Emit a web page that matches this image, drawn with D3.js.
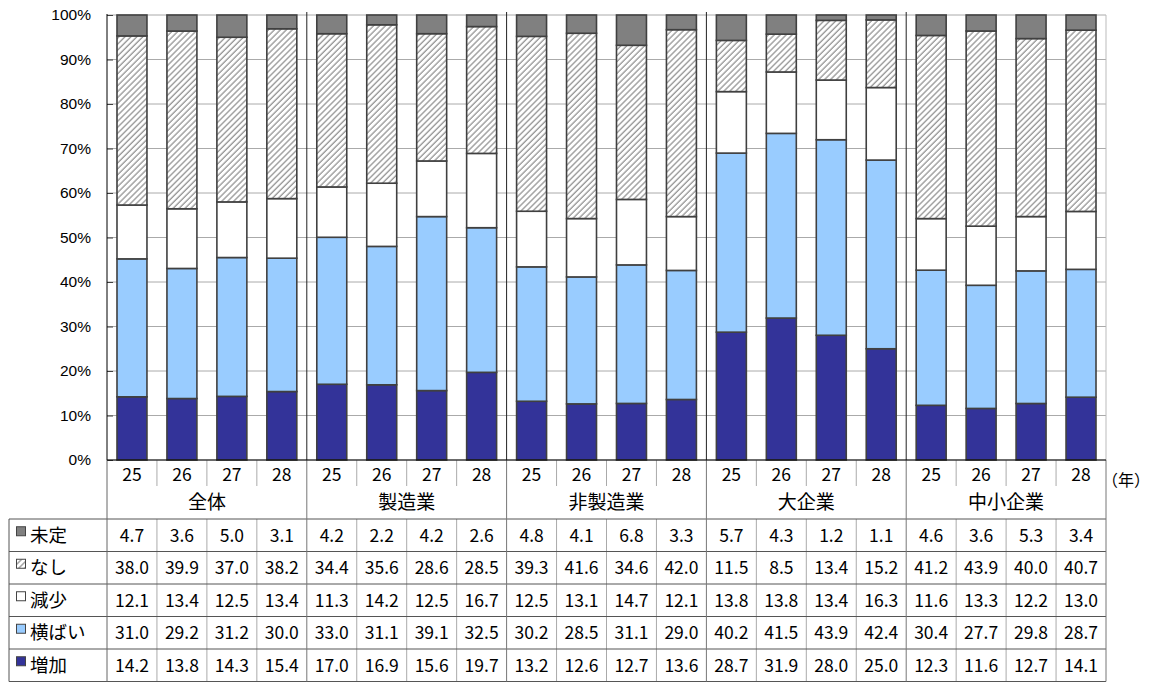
<!DOCTYPE html>
<html lang="ja">
<head>
<meta charset="utf-8">
<script src="https://cdn.jsdelivr.net/npm/d3@7"></script>
<style>
  html, body { margin: 0; padding: 0; background: #fff; }
  svg { display: block; }
  text { fill: #000; }
</style>
</head>
<body>
<svg id="chart" width="1151" height="682"></svg>
<script>
// Categories: five groups, each with four survey years
const groups = ["全体", "製造業", "非製造業", "大企業", "中小企業"];
const years = ["25", "26", "27", "28"];
const yearUnit = "（年）";

// Series names, in table order (top to bottom)
const seriesNames = ["未定", "なし", "減少", "横ばい", "増加"];

// Series values (%), 20 columns: group × year
const undecided = [4.7, 3.6, 5.0, 3.1,  4.2, 2.2, 4.2, 2.6,  4.8, 4.1, 6.8, 3.3,  5.7, 4.3, 1.2, 1.1,  4.6, 3.6, 5.3, 3.4];
const none      = [38.0, 39.9, 37.0, 38.2,  34.4, 35.6, 28.6, 28.5,  39.3, 41.6, 34.6, 42.0,  11.5, 8.5, 13.4, 15.2,  41.2, 43.9, 40.0, 40.7];
const decrease  = [12.1, 13.4, 12.5, 13.4,  11.3, 14.2, 12.5, 16.7,  12.5, 13.1, 14.7, 12.1,  13.8, 13.8, 13.4, 16.3,  11.6, 13.3, 12.2, 13.0];
const flat      = [31.0, 29.2, 31.2, 30.0,  33.0, 31.1, 39.1, 32.5,  30.2, 28.5, 31.1, 29.0,  40.2, 41.5, 43.9, 42.4,  30.4, 27.7, 29.8, 28.7];
const increase  = [14.2, 13.8, 14.3, 15.4,  17.0, 16.9, 15.6, 19.7,  13.2, 12.6, 12.7, 13.6,  28.7, 31.9, 28.0, 25.0,  12.3, 11.6, 12.7, 14.1];

// Tick values for the percentage axis
const yTicks = [0, 0.1, 0.2, 0.3, 0.4, 0.5, 0.6, 0.7, 0.8, 0.9, 1.0];

// ---- build the table the stack layout needs ----
const seriesValues = { "未定": undecided, "なし": none, "減少": decrease, "横ばい": flat, "増加": increase };
const stackOrder = ["増加", "横ばい", "減少", "なし", "未定"]; // bottom to top
const rows = d3.range(groups.length * years.length).map(i => {
  const r = { idx: i, group: groups[Math.floor(i / years.length)], year: years[i % years.length] };
  seriesNames.forEach(s => { r[s] = seriesValues[s][i]; });
  return r;
});

const fills = { "増加": "#333399", "横ばい": "#99CCFF", "減少": "#FFFFFF", "なし": "url(#hatch)", "未定": "#808080" };

const FONT = "'Noto Sans CJK JP', 'Noto Sans', sans-serif";
const plot = { left: 107, right: 1106, top: 15, bottom: 460 };
const table = { left: 9, yearRowBottom: 486, top: 519, rowH: 32.5 };

const svg = d3.select("#chart");

// hatch pattern for "なし"
const defs = svg.append("defs");
const pat = defs.append("pattern")
  .attr("id", "hatch").attr("patternUnits", "userSpaceOnUse")
  .attr("width", 4.2).attr("height", 10)
  .attr("patternTransform", "rotate(45)");
pat.append("rect").attr("width", 4.2).attr("height", 10).attr("fill", "#fff");
pat.append("line").attr("x1", 1).attr("x2", 1).attr("y1", 0).attr("y2", 10)
  .attr("stroke", "#9a9a9a").attr("stroke-width", 1.4);

// scales
const x = d3.scaleBand().domain(rows.map(d => d.idx)).range([plot.left, plot.right])
  .paddingInner(0.4).paddingOuter(0.2);
const xCell = d3.scaleBand().domain(rows.map(d => d.idx)).range([plot.left, plot.right]);
const y = d3.scaleLinear().domain([0, 1]).range([plot.bottom, plot.top]);

// gridlines
svg.append("g").selectAll("line").data(yTicks).join("line")
  .attr("x1", plot.left).attr("x2", plot.right)
  .attr("y1", d => y(d)).attr("y2", d => y(d))
  .attr("stroke", "#aaaaaa").attr("stroke-width", 1);
// right border of the plot area
svg.append("line").attr("x1", plot.right).attr("x2", plot.right)
  .attr("y1", plot.top).attr("y2", plot.bottom).attr("stroke", "#bbbbbb");

// stacked 100% bars
const stacked = d3.stack().keys(stackOrder).offset(d3.stackOffsetExpand)(rows);
svg.append("g").selectAll("g").data(stacked).join("g")
  .attr("fill", d => fills[d.key])
  .selectAll("rect").data(d => d).join("rect")
  .attr("x", d => x(d.data.idx))
  .attr("width", x.bandwidth())
  .attr("y", d => y(d[1]))
  .attr("height", d => y(d[0]) - y(d[1]))
  .attr("stroke", "#404040").attr("stroke-width", 1.6);

// y axis
const yAxis = d3.axisLeft(y).tickValues(yTicks).tickFormat(d3.format(".0%"))
  .tickSizeInner(-6).tickSizeOuter(0).tickPadding(16);
const gy = svg.append("g").attr("transform", `translate(${plot.left},0)`).call(yAxis);
gy.select(".domain").remove();
gy.selectAll(".tick line").attr("stroke", "#404040");
gy.selectAll(".tick text").attr("font-family", "'Liberation Sans', Arial, sans-serif")
  .attr("font-size", 15.5).attr("fill", "#000");

// ---- category header and data table ----
const tableBottom = table.top + table.rowH * seriesNames.length;
const lines = svg.append("g");

// year separators inside groups
lines.selectAll(".ysep").data(rows.filter(d => d.idx % years.length !== 0)).join("line")
  .attr("x1", d => xCell(d.idx)).attr("x2", d => xCell(d.idx))
  .attr("y1", plot.bottom).attr("y2", table.yearRowBottom)
  .attr("stroke", "#aaaaaa");
// column separators in the data rows
lines.selectAll(".csep").data(rows.filter(d => d.idx % years.length !== 0)).join("line")
  .attr("x1", d => xCell(d.idx)).attr("x2", d => xCell(d.idx))
  .attr("y1", table.top).attr("y2", tableBottom)
  .attr("stroke", "#aaaaaa");
// horizontal table rules
lines.selectAll(".hrule").data(d3.range(seriesNames.length + 1)).join("line")
  .attr("x1", table.left).attr("x2", plot.right)
  .attr("y1", k => table.top + k * table.rowH).attr("y2", k => table.top + k * table.rowH)
  .attr("stroke", "#555555");
// table left border
lines.append("line").attr("x1", table.left).attr("x2", table.left)
  .attr("y1", table.top).attr("y2", tableBottom).attr("stroke", "#555555");
// table right border
lines.append("line").attr("x1", plot.right).attr("x2", plot.right)
  .attr("y1", plot.bottom).attr("y2", tableBottom).attr("stroke", "#777777");
// group separators (plot and table)
const groupEdges = d3.range(1, groups.length).map(g => xCell(g * years.length));
lines.selectAll(".gsep-plot").data(groupEdges).join("line")
  .attr("x1", d => d).attr("x2", d => d)
  .attr("y1", plot.top - 3).attr("y2", plot.bottom).attr("stroke", "#222");
lines.selectAll(".gsep-table").data(groupEdges).join("line")
  .attr("x1", d => d).attr("x2", d => d)
  .attr("y1", plot.bottom).attr("y2", tableBottom).attr("stroke", "#777");
// left axis line continuing down the table
lines.append("line").attr("x1", plot.left).attr("x2", plot.left)
  .attr("y1", plot.top - 1).attr("y2", plot.bottom).attr("stroke", "#000");
lines.append("line").attr("x1", plot.left).attr("x2", plot.left)
  .attr("y1", plot.bottom).attr("y2", tableBottom).attr("stroke", "#666");
// baseline of the plot
lines.append("line").attr("x1", plot.left).attr("x2", plot.right)
  .attr("y1", plot.bottom).attr("y2", plot.bottom).attr("stroke", "#000");

// year labels
svg.append("g").selectAll("text").data(rows).join("text")
  .attr("x", d => xCell(d.idx) + xCell.bandwidth() / 2)
  .attr("y", 474.5).attr("dy", "0.36em")
  .attr("text-anchor", "middle").attr("font-family", FONT).attr("font-size", 17.5)
  .text(d => d.year);

// group labels
svg.append("g").selectAll("text").data(groups).join("text")
  .attr("x", (g, i) => xCell(i * years.length) + xCell.step() * years.length / 2)
  .attr("y", 502).attr("dy", "0.36em")
  .attr("text-anchor", "middle").attr("font-family", FONT).attr("font-size", 19)
  .text(g => g);

// unit label: each full-width glyph placed on its own em so the parentheses keep their spacing
const unitSize = 16;
svg.append("text").attr("y", 480).attr("dy", "0.36em")
  .attr("font-family", FONT).attr("font-size", unitSize)
  .selectAll("tspan").data(Array.from(yearUnit)).join("tspan")
  .attr("x", (c, i) => plot.right - 4 + i * unitSize)
  .text(c => c);

// legend keys and series names
const legend = svg.append("g").selectAll("g").data(seriesNames).join("g")
  .attr("transform", (s, k) => `translate(0,${table.top + k * table.rowH + table.rowH / 2})`);
legend.append("rect").attr("x", 16.5).attr("y", -8.5).attr("width", 9).attr("height", 9)
  .attr("fill", s => fills[s]).attr("stroke", "#444").attr("stroke-width", 1);
legend.append("text").attr("x", 30).attr("y", 0).attr("dy", "0.36em")
  .attr("font-family", FONT).attr("font-size", 18.5).text(s => s);

// values in the table
seriesNames.forEach((s, k) => {
  svg.append("g").selectAll("text").data(rows).join("text")
    .attr("x", d => xCell(d.idx) + xCell.bandwidth() / 2)
    .attr("y", table.top + k * table.rowH + table.rowH / 2).attr("dy", "0.36em")
    .attr("text-anchor", "middle").attr("font-family", FONT).attr("font-size", 17.5)
    .text(d => d3.format(".1f")(d[s]));
});
</script>
</body>
</html>
